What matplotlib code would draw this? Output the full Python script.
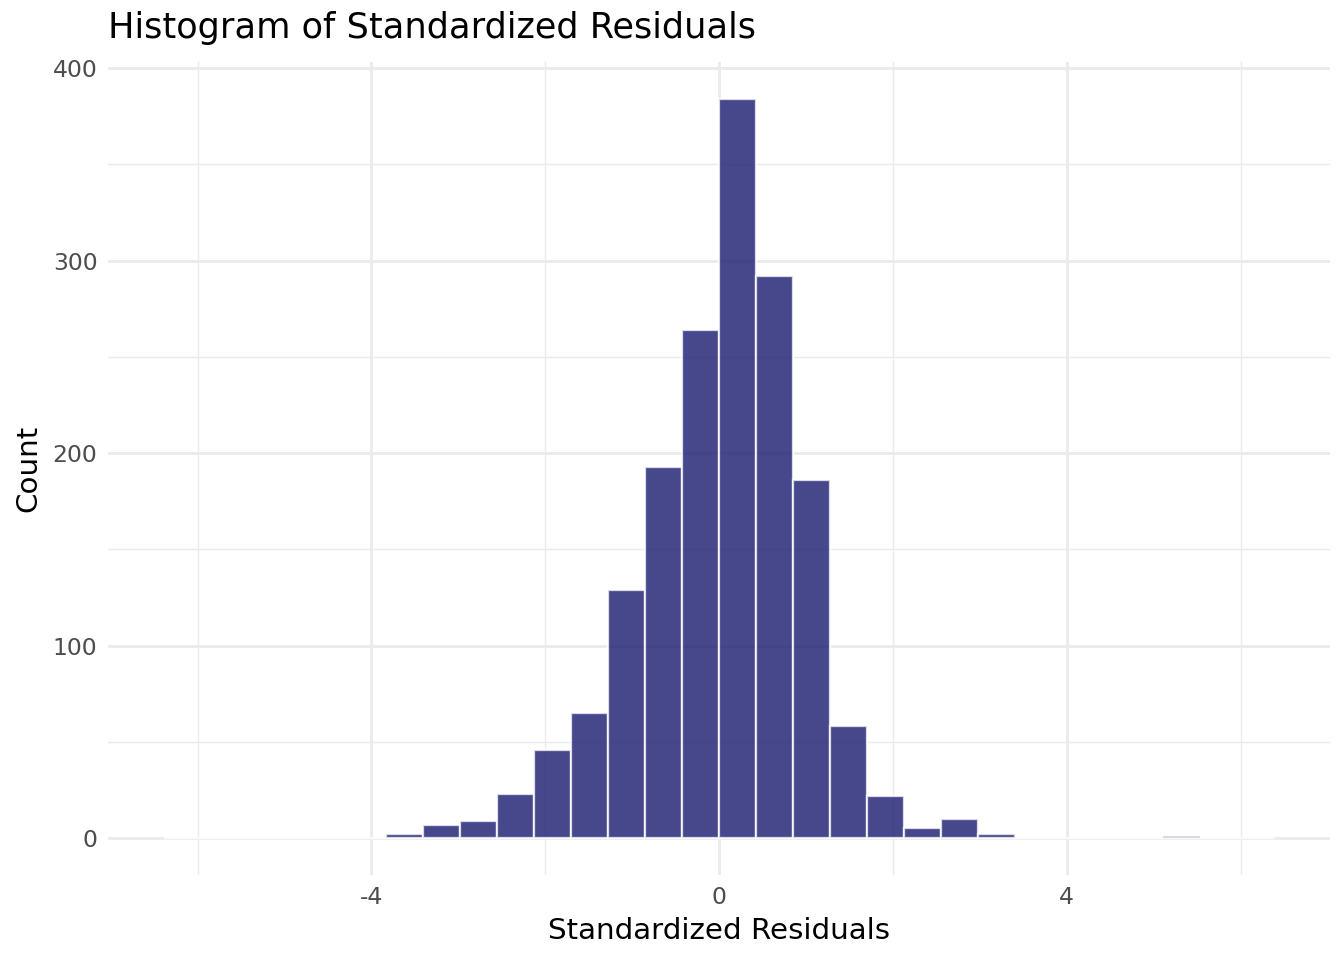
import numpy as np
import matplotlib
matplotlib.use('agg')
import matplotlib.pyplot as plt
from matplotlib.ticker import MultipleLocator

# histogram counts, 30 bins from -6.39 to 6.39
bin_lo = -6.39
bin_hi = 6.39
counts = [0, 0, 0, 0, 0, 0, 2, 7, 9, 23, 46, 65, 129, 193, 264,
          384, 292, 186, 58, 22, 5, 10, 2, 0, 0, 0, 0, 1, 0, 0]

edges = np.linspace(bin_lo, bin_hi, len(counts) + 1)
width = edges[1] - edges[0]

fig = plt.figure(figsize=(7, 5), dpi=192)
ax = fig.add_axes([0.0804, 0.0885, 0.9092, 0.8469])

grid_col = '#EBEBEB'
ax.set_axisbelow(True)
ax.bar(edges[:-1], counts, width=width, align='edge',
       color='#191970', alpha=0.8, edgecolor='white', linewidth=0.85)

span = bin_hi - bin_lo
ax.set_xlim(bin_lo - 0.05 * span, bin_hi + 0.05 * span)
ax.set_ylim(-0.05 * max(counts), max(counts) * 1.05)

ax.xaxis.set_major_locator(MultipleLocator(4))
ax.xaxis.set_minor_locator(MultipleLocator(2))
ax.yaxis.set_major_locator(MultipleLocator(100))
ax.yaxis.set_minor_locator(MultipleLocator(50))
ax.grid(which='major', color=grid_col, linewidth=1.07)
ax.grid(which='minor', color=grid_col, linewidth=0.53)
ax.tick_params(which='both', length=0, labelsize=8.8, labelcolor='#4D4D4D')
ax.tick_params(axis='x', pad=4)
ax.tick_params(axis='y', pad=4)
for s in ax.spines.values():
    s.set_visible(False)

ax.set_xticks([-4, 0, 4])
ax.set_xticklabels(['-4', '0', '4'])
ax.set_xlabel('Standardized Residuals', fontsize=11, labelpad=3)
ax.set_ylabel('Count', fontsize=11, labelpad=4)
ax.set_title('Histogram of Standardized Residuals', loc='left', fontsize=13.2, pad=9)

fig.savefig('out.png', dpi=192)
